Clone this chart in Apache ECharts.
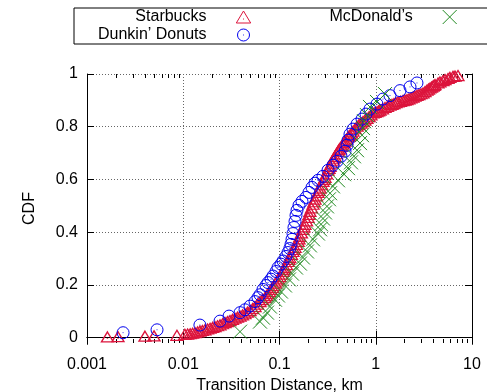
<!DOCTYPE html>
<html><head><meta charset="utf-8">
<script src="https://cdn.jsdelivr.net/npm/echarts@6/dist/echarts.min.js"></script>
<style>html,body{margin:0;padding:0;background:#fff}#c{width:487px;height:392px}</style>
</head><body><div id="c"></div>
<script>
// ---- data ----
const seriesNames = ['Starbucks', 'Dunkin’ Donuts', 'McDonald’s'];
const xMajorTicks = [0.001, 0.01, 0.1, 1, 10];
const xMinorTicks = [0.002,0.003,0.004,0.005,0.006,0.007,0.008,0.009,
  0.02,0.03,0.04,0.05,0.06,0.07,0.08,0.09,
  0.2,0.3,0.4,0.5,0.6,0.7,0.8,0.9,
  2,3,4,5,6,7,8,9];
const yTicks = [0, 0.2, 0.4, 0.6, 0.8, 1];

const starbucksX = [0.00163,0.0021,0.0040,0.00497,0.0086,
  0.0104,0.0111,0.0118,0.0125,0.0133,0.0141,0.0149,0.0158,0.0168,0.0179,
  0.0190,0.0202,0.0214,0.0227,0.0241,0.0256,0.0272,0.0288,0.0306,0.0325,
  0.0345,0.0366,0.0389,0.0413,0.0438,0.0465,0.0494,0.0525,0.0557,0.0591,
  0.0627,0.0666,0.0707,0.0733,0.0760,0.0788,0.0816,0.0846,0.0877,0.0909,
  0.0942,0.0975,0.101,0.105,0.109,0.1115,0.114,0.118,0.1225,0.125,
  0.128,0.133,0.138,0.1415,0.145,0.150,0.156,0.1595,0.163,0.169,
  0.175,0.1795,0.184,0.191,0.198,0.2025,0.207,0.215,0.223,0.2285,
  0.234,0.2425,0.251,0.2575,0.264,0.2735,0.283,0.290,0.297,0.308,
  0.319,0.327,0.335,0.347,0.360,0.368,0.377,0.391,0.405,0.415,
  0.426,0.441,0.457,0.468,0.479,0.497,0.515,0.527,0.540,0.560,
  0.580,0.609,0.639,0.670,0.703,0.737,0.773,0.811,0.851,0.892,
  0.936,0.982,1.03,1.068,1.107,1.175,1.248,1.325,1.406,1.475,
  1.547,1.623,1.703,1.808,1.919,2.013,2.112,2.215,2.324,2.438,
  2.557,2.682,2.814,2.952,3.097,3.249,3.408,3.532,3.661,3.795,
  3.934,4.029,4.127,4.435,4.65,4.996,5.242,5.632,5.90,6.347,
  6.658,7.154];
const starbucksY = [0.003,0.004,0.006,0.007,0.009,
  0.013,0.014,0.015,0.017,0.019,0.022,0.025,0.0275,0.030,0.033,
  0.036,0.039,0.042,0.0455,0.049,0.053,0.057,0.061,0.065,0.0695,
  0.074,0.078,0.082,0.0865,0.091,0.097,0.103,0.1105,0.118,0.1275,
  0.137,0.1445,0.152,0.1595,0.167,0.175,0.183,0.1905,0.198,0.2065,
  0.215,0.2235,0.232,0.2415,0.251,0.2585,0.266,0.2775,0.289,0.2965,
  0.304,0.3155,0.327,0.3345,0.342,0.3535,0.365,0.3745,0.384,0.3975,
  0.411,0.4205,0.430,0.443,0.456,0.4675,0.479,0.4925,0.506,0.5155,
  0.525,0.538,0.551,0.559,0.567,0.580,0.593,0.6005,0.608,0.6215,
  0.635,0.6425,0.650,0.6615,0.673,0.6805,0.688,0.6975,0.707,0.713,
  0.719,0.7265,0.734,0.7395,0.745,0.753,0.761,0.7645,0.768,0.7755,
  0.783,0.7925,0.802,0.808,0.814,0.8195,0.825,0.8315,0.838,0.845,
  0.852,0.8545,0.857,0.860,0.863,0.868,0.873,0.8775,0.882,0.885,
  0.888,0.891,0.894,0.8965,0.899,0.901,0.903,0.906,0.909,0.9125,
  0.916,0.919,0.922,0.925,0.928,0.9335,0.939,0.943,0.947,0.9505,
  0.954,0.957,0.960,0.966,0.970,0.975,0.979,0.983,0.987,0.991,
  0.992,0.994];

const dunkinX = [0.00237,0.00534,0.0149,0.0241,0.0299,0.0389,0.0438,0.0494,0.0557,0.0598,
  0.0627,0.0674,0.0724,0.0760,0.0816,0.0856,0.0920,0.0965,0.1036,0.1088,
  0.1168,0.1225,0.128,0.1317,0.1349,0.1381,0.1414,0.1449,0.1484,0.152,
  0.1594,0.1713,0.1885,0.2025,0.2177,0.2338,0.251,0.283,0.319,0.3595,
  0.3957,0.4355,0.4792,0.5027,0.5148,0.540,0.580,0.639,0.72,0.792,
  0.871,1.03,1.189,1.406,1.786,2.27,2.68];
const dunkinY = [0.019,0.030,0.048,0.063,0.082,0.095,0.106,0.120,0.137,0.152,
  0.163,0.183,0.198,0.209,0.222,0.234,0.251,0.266,0.279,0.291,
  0.308,0.323,0.338,0.354,0.373,0.395,0.418,0.441,0.464,0.483,
  0.502,0.517,0.532,0.551,0.570,0.586,0.597,0.612,0.635,0.654,
  0.669,0.688,0.707,0.730,0.749,0.772,0.791,0.810,0.829,0.848,
  0.867,0.886,0.905,0.918,0.937,0.951,0.966];

const mcdonaldsX = [0.0389,0.0627,0.0674,0.0742,0.0796,0.0898,0.0965,0.1036,0.114,0.1255,
  0.1349,0.1484,0.163,0.1754,0.193,0.207,0.2229,0.251,0.264,0.270,
  0.283,0.297,0.3114,0.3268,0.335,0.3595,0.4053,0.468,0.5148,0.553,
  0.594,0.639,0.686,0.72,0.737,0.755,0.811,0.871,1.03,1.248];
const mcdonaldsY = [0.023,0.061,0.076,0.095,0.118,0.144,0.160,0.175,0.198,0.221,
  0.243,0.266,0.281,0.304,0.327,0.350,0.373,0.395,0.411,0.430,
  0.452,0.475,0.498,0.525,0.548,0.574,0.597,0.620,0.643,0.665,
  0.688,0.711,0.738,0.768,0.795,0.821,0.844,0.875,0.894,0.924];

// ---- styles ----
const FONT = '"Liberation Sans", Arial, Helvetica, sans-serif';
const RED = '#dc143c', BLUE = '#0000ee', GREEN = '#228b22';
const TRI = 'path://M6,0L12,10L0,10Z M6,6.3L6,7.1';
const CIR = 'path://M12,6A6,6,0,1,1,0,6A6,6,0,1,1,12,6Z M6,5.6L6,6.4';
const CROSS = 'path://M0,0L14,14M14,0L0,14';

function pairs(xs, ys) { return xs.map((x, i) => [x, ys[i]]); }

const black = {color: '#000', width: 1};
const dotted = {show: true, lineStyle: {color: '#666', width: 1, type: [1, 2]}};
const txt = {fontFamily: FONT, fontSize: 16, color: '#000'};

function xAx(pos, major, withLabels) {
  return {
    type: 'log', logBase: 10, min: 0.001, max: 10, position: pos, gridIndex: 0,
    axisLine: {show: major, lineStyle: black},
    axisTick: major ? {show: true, inside: true, length: 7, lineStyle: black}
                    : {show: true, inside: true, length: 4, lineStyle: black, customValues: xMinorTicks},
    axisLabel: withLabels ? Object.assign({show: true, margin: 14}, txt) : {show: false},
    splitLine: withLabels ? dotted : {show: false},
    name: withLabels ? 'Transition Distance, km' : '',
    nameLocation: 'middle', nameGap: 33, nameTextStyle: txt
  };
}
function yAx(pos, withLabels) {
  return {
    type: 'value', min: -0.02, max: 1, position: pos,
    axisLine: {show: true, lineStyle: black},
    axisTick: {show: true, inside: true, length: 7, lineStyle: black, customValues: yTicks},
    axisLabel: withLabels ? Object.assign({show: true, margin: 9, customValues: yTicks}, txt) : {show: false},
    splitLine: withLabels ? dotted : {show: false},
    name: withLabels ? 'CDF' : '',
    nameLocation: 'middle', nameGap: 49, nameTextStyle: txt
  };
}
function sc(name, xs, ys, sym, size, col, bw) {
  return {
    type: 'scatter', name: name, xAxisIndex: 0, yAxisIndex: 0,
    data: pairs(xs, ys), symbol: sym, symbolSize: size,
    itemStyle: {color: 'rgba(0,0,0,0)', borderColor: col, borderWidth: bw, opacity: 1},
    emphasis: {disabled: true}, silent: true
  };
}

const chart = echarts.init(document.getElementById('c'), null, {renderer: 'canvas'});
chart.setOption({
  animation: false,
  backgroundColor: '#fff',
  textStyle: {fontFamily: FONT},
  grid: {left: 87, right: 15, top: 74, bottom: 49, containLabel: false, outerBoundsMode: 'none'},
  xAxis: [xAx('bottom', true, true), xAx('top', true, false), xAx('bottom', false, false), xAx('top', false, false)],
  yAxis: [yAx('left', true), yAx('right', false)],
  legend: [
    {
      orient: 'vertical', align: 'right', left: 74, top: 8, padding: [1, 258.3, 1, 24],
      itemWidth: 64, itemHeight: 12, itemGap: 2,
      borderColor: '#000', borderWidth: 1, selectedMode: false, textStyle: txt,
      data: [
        {name: seriesNames[0], icon: TRI, itemStyle: {color: 'rgba(0,0,0,0)', borderColor: RED, borderWidth: 1}},
        {name: seriesNames[1], icon: CIR, itemStyle: {color: 'rgba(0,0,0,0)', borderColor: BLUE, borderWidth: 1}}
      ]
    },
    {
      orient: 'horizontal', align: 'right', left: 329.4, top: 9, padding: 0,
      itemWidth: 64, itemHeight: 14, selectedMode: false, textStyle: txt,
      data: [
        {name: seriesNames[2], icon: CROSS, itemStyle: {color: 'rgba(0,0,0,0)', borderColor: GREEN, borderWidth: 1}}
      ]
    }
  ],
  series: [
    sc(seriesNames[0], starbucksX, starbucksY, TRI, [12, 10], RED, 1.3),
    sc(seriesNames[1], dunkinX, dunkinY, CIR, [12, 12], BLUE, 1),
    sc(seriesNames[2], mcdonaldsX, mcdonaldsY, CROSS, [14, 14], GREEN, 1)
  ]
});
</script></body></html>
